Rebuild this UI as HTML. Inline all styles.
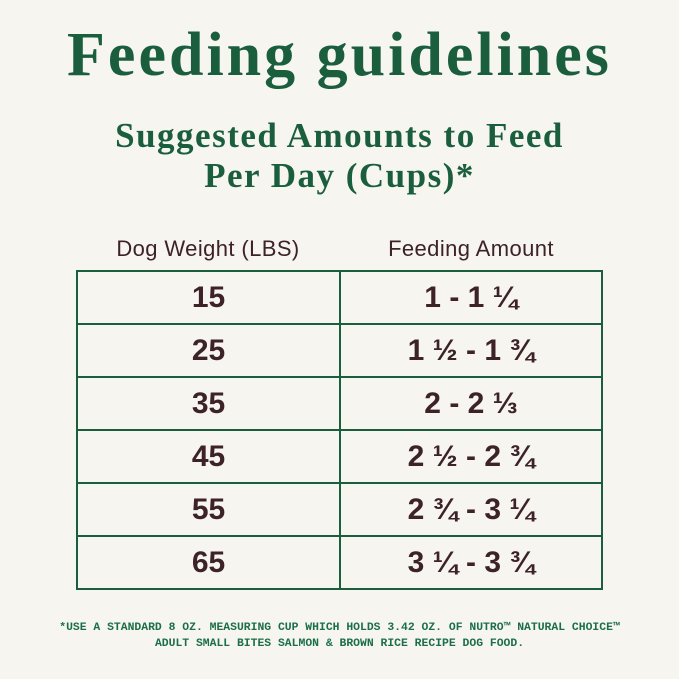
<!DOCTYPE html>
<html><head><style>
body{margin:0;width:679px;height:679px;background:#f6f5f0;position:relative;overflow:hidden;}
.t{position:absolute;left:0;width:679px;text-align:center;white-space:nowrap;}
h1{position:absolute;left:0;width:679px;text-align:center;margin:0;top:22px;font:bold 62px/66px "Liberation Serif",serif;color:#1b5e3d;letter-spacing:3px;}
.sub{top:116px;font:bold 35px/40px "Liberation Serif",serif;color:#1b5e3d;letter-spacing:1.5px;}
.hd{top:237px;font:22px/24px "Liberation Sans",sans-serif;color:#3d2328;letter-spacing:0.4px;}
table{position:absolute;left:76px;top:270px;width:527px;border-collapse:collapse;}
td{border:2px solid #1b5e3d;height:51px;text-align:center;font:bold 30px "Liberation Sans",sans-serif;color:#3d2328;padding:0;}
td:first-child{width:261px;}
.ft{font:bold 11.4px/16px "Liberation Mono",monospace;color:#1b6e47;top:620px;}
</style></head><body>
<h1>Feeding guidelines</h1>
<div class="t sub">Suggested Amounts to Feed<br>Per Day (Cups)*</div>
<div class="t hd"><span style="position:absolute;left:76px;width:264px;text-align:center">Dog Weight (LBS)</span><span style="position:absolute;left:339px;width:264px;text-align:center">Feeding Amount</span></div>
<table>
<tr><td>15</td><td>1 - 1 ¼</td></tr>
<tr><td>25</td><td>1 ½ - 1 ¾</td></tr>
<tr><td>35</td><td>2 - 2 ⅓</td></tr>
<tr><td>45</td><td>2 ½ - 2 ¾</td></tr>
<tr><td>55</td><td>2 ¾ - 3 ¼</td></tr>
<tr><td>65</td><td>3 ¼ - 3 ¾</td></tr>
</table>
<div class="t ft">*USE A STANDARD 8 OZ. MEASURING CUP WHICH HOLDS 3.42 OZ. OF NUTRO™ NATURAL CHOICE™<br>ADULT SMALL BITES SALMON &amp; BROWN RICE RECIPE DOG FOOD.</div>
</body></html>
